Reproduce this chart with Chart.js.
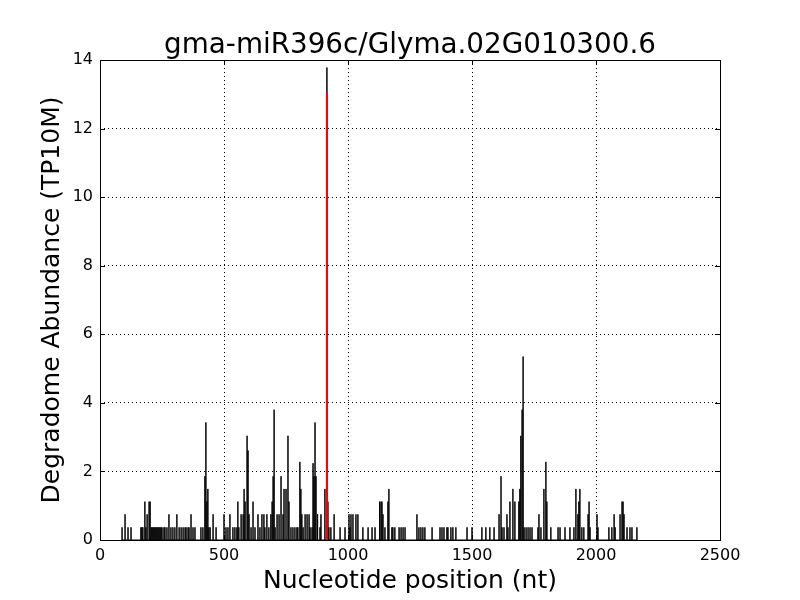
<!DOCTYPE html>
<html>
<head>
<meta charset="utf-8">
<script src="https://cdn.jsdelivr.net/npm/chart.js@4.4.0/dist/chart.umd.min.js"></script>
<style>
  html, body { margin: 0; padding: 0; background: #fff; }
  canvas { display: block; }
</style>
</head>
<body>
<canvas id="c" width="800" height="600"></canvas>
<script>
// Degradome read positions (nt) and abundances (TP10M)
const positions = [89,101,113,125,165,169,173,181,185,190,198,202,206,210,214,218,222,226,230,234,238,242,246,250,258,262,270,278,286,294,302,310,319,327,335,343,347,355,359,367,375,383,407,415,423,427,431,435,439,444,456,468,500,508,516,524,536,544,552,556,560,569,577,581,585,593,597,601,609,617,625,637,645,653,661,665,673,681,689,694,698,702,706,714,722,730,738,742,750,758,762,770,778,786,794,798,806,810,814,819,827,835,843,847,855,859,863,867,871,875,879,887,891,907,915,919,923,931,944,968,988,1004,1008,1012,1020,1032,1040,1060,1081,1097,1109,1125,1129,1133,1137,1141,1149,1161,1165,1177,1181,1189,1206,1214,1222,1230,1278,1286,1294,1302,1310,1339,1371,1379,1387,1399,1403,1415,1423,1435,1480,1500,1540,1556,1572,1589,1609,1617,1621,1629,1641,1645,1653,1665,1673,1689,1693,1697,1702,1706,1710,1718,1726,1734,1742,1766,1770,1778,1790,1798,1802,1818,1847,1855,1875,1895,1911,1919,1927,1931,1935,1943,1951,1968,1972,1976,2004,2008,2052,2064,2073,2077,2097,2105,2109,2113,2125,2137,2145,2165];
const abundance = [0.37,0.75,0.37,0.37,0.37,0.37,0.37,1.12,0.37,0.75,1.12,1.12,0.37,0.37,0.37,0.37,0.37,0.37,0.37,0.37,0.37,0.37,0.37,0.37,0.37,0.37,0.37,0.75,0.37,0.37,0.37,0.75,0.37,0.37,0.37,0.37,0.37,0.37,0.37,0.75,0.37,0.37,0.37,0.37,1.86,3.43,1.12,1.49,0.37,0.37,0.75,0.37,0.75,0.37,0.37,0.75,0.37,0.37,0.37,1.12,0.37,0.75,0.75,1.49,1.12,3.04,2.61,0.75,0.37,1.12,0.37,0.75,0.37,0.75,0.75,0.37,0.75,0.37,0.75,1.12,1.86,3.80,0.37,0.75,0.75,1.86,0.75,1.49,1.49,3.04,1.12,0.37,0.37,0.37,0.37,0.37,2.28,1.49,0.75,0.37,0.75,0.75,0.75,0.37,0.37,2.24,1.86,3.43,1.86,0.75,0.37,0.37,0.75,1.49,13.78,1.12,0.37,0.37,0.75,0.37,0.37,0.75,0.37,0.75,0.75,0.75,0.75,0.37,0.37,0.37,0.37,1.12,0.75,1.12,1.12,0.75,0.37,1.12,1.49,0.37,0.37,0.37,0.37,0.37,0.37,0.37,0.75,0.37,0.37,0.37,0.37,0.37,0.37,0.37,0.37,0.37,0.37,0.37,0.37,0.37,0.37,0.37,0.37,0.37,0.37,0.37,0.75,1.86,0.37,0.37,0.75,0.37,1.12,1.49,1.12,1.12,1.49,3.04,3.80,5.35,0.37,0.37,0.37,0.37,0.37,0.37,0.75,0.37,1.49,2.28,1.12,0.37,0.37,0.37,0.37,0.37,0.37,1.49,0.75,1.12,1.49,0.37,0.37,0.75,1.12,0.37,0.75,0.37,0.37,0.37,0.75,0.37,0.75,1.12,1.12,0.75,0.37,0.37,0.37,0.37];
// miRNA cleavage site (red)
const sitePosition = 915;
const siteAbundance = 13.04;
const xTicks = [0, 500, 1000, 1500, 2000, 2500];
const yTicks = [0, 2, 4, 6, 8, 10, 12, 14];
const titleText = 'gma-miR396c/Glyma.02G010300.6';
const xTitle = 'Nucleotide position (nt)';
const yTitle = 'Degradome Abundance (TP10M)';

const spikeData = [];
positions.forEach((p, i) => {
  spikeData.push({x: p, y: 0}, {x: p, y: abundance[i]}, {x: p, y: 0});
});
const siteData = [{x: sitePosition, y: 0}, {x: sitePosition, y: siteAbundance}];

const FONT = 'DejaVu Sans';

const decor = {
  id: 'decor',
  afterDraw(chart) {
    const ctx = chart.ctx;
    const a = chart.chartArea;
    const xs = chart.scales.x, ys = chart.scales.y;
    ctx.save();
    ctx.strokeStyle = '#000';
    ctx.lineWidth = 1;
    // inward ticks
    ctx.beginPath();
    xTicks.forEach(v => {
      const px = Math.round(xs.getPixelForValue(v)) + 0.5;
      ctx.moveTo(px, a.bottom); ctx.lineTo(px, a.bottom - 5);
      ctx.moveTo(px, a.top); ctx.lineTo(px, a.top + 5);
    });
    yTicks.forEach(v => {
      const py = Math.round(ys.getPixelForValue(v)) + 0.5;
      ctx.moveTo(a.left, py); ctx.lineTo(a.left + 5, py);
      ctx.moveTo(a.right, py); ctx.lineTo(a.right - 5, py);
    });
    ctx.stroke();
    // frame
    ctx.strokeRect(Math.round(a.left) + 0.5, Math.round(a.top) + 0.5,
                   Math.round(a.right - a.left), Math.round(a.bottom - a.top));
    // texts
    ctx.fillStyle = '#000';
    ctx.textAlign = 'center';
    ctx.textBaseline = 'alphabetic';
    ctx.font = '27.8px "' + FONT + '"';
    ctx.fillText(titleText, (a.left + a.right) / 2, 53);
    ctx.font = '25px "' + FONT + '"';
    ctx.textBaseline = 'middle';
    ctx.fillText(xTitle, (a.left + a.right) / 2, 581);
    ctx.translate(52, (a.top + a.bottom) / 2);
    ctx.rotate(-Math.PI / 2);
    ctx.fillText(yTitle, 0, 0);
    ctx.restore();
  }
};

new Chart(document.getElementById('c'), {
  type: 'scatter',
  data: {
    datasets: [
      {
        data: siteData,
        showLine: true,
        borderColor: '#ff0000',
        borderWidth: 2,
        pointRadius: 0,
        tension: 0
      },
      {
        data: spikeData,
        showLine: true,
        borderColor: '#000000',
        borderWidth: 1,
        pointRadius: 0,
        tension: 0
      }
    ]
  },
  options: {
    responsive: false,
    animation: false,
    events: [],
    layout: { padding: { left: 0, right: 80, top: 60, bottom: 0 } },
    plugins: { legend: { display: false }, tooltip: { enabled: false }, title: { display: false } },
    scales: {
      x: {
        type: 'linear',
        min: 0, max: 2500,
        afterFit: s => { s.height = 60; },
        afterBuildTicks: s => { s.ticks = xTicks.map(v => ({value: v})); },
        ticks: { color: '#000', font: { family: FONT, size: 16 }, padding: 6, maxRotation: 0,
                 callback: v => String(v) },
        grid: { color: '#000', drawTicks: false },
        border: { display: false, dash: [1, 3] }
      },
      y: {
        type: 'linear',
        min: 0, max: 14,
        afterFit: s => { s.width = 100; },
        afterBuildTicks: s => { s.ticks = yTicks.map(v => ({value: v})); },
        ticks: { color: '#000', font: { family: FONT, size: 16 }, padding: 7,
                 callback: v => String(v) },
        grid: { color: '#000', drawTicks: false },
        border: { display: false, dash: [1, 3] }
      }
    }
  },
  plugins: [decor]
});
</script>
</body>
</html>
